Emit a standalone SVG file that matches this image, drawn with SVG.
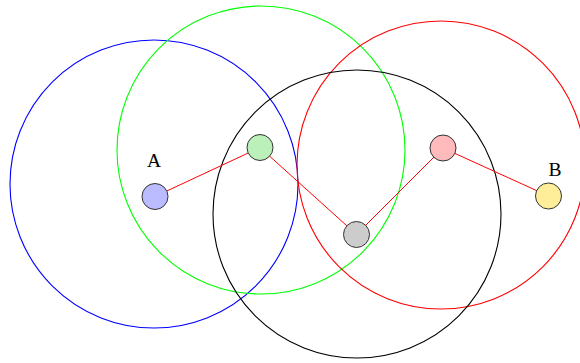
<svg xmlns="http://www.w3.org/2000/svg" width="580" height="363" viewBox="0 0 580 363">
<style>
.range{fill:none;stroke-width:1.1}
.node{stroke:#333;stroke-width:1}
.edge{stroke:#ff0000;stroke-width:1}
.lbl{font-family:"Liberation Serif",serif;font-size:19.5px;fill:#000;text-anchor:middle}
</style>
<rect width="580" height="363" fill="#fff"/>
<g id="ranges">
<circle class="range" cx="154" cy="184" r="144" stroke="#0000ff"/>
<circle class="range" cx="261" cy="150" r="144" stroke="#00ff00"/>
<circle class="range" cx="441" cy="165" r="144" stroke="#ff0000"/>
<circle class="range" cx="357" cy="214" r="144" stroke="#000000"/>
</g>
<g id="connectors">
<line class="edge" x1="155" y1="196.5" x2="260" y2="147.5"/>
<line class="edge" x1="260" y1="147.5" x2="356.5" y2="234.5"/>
<line class="edge" x1="356.5" y1="234.5" x2="443" y2="148"/>
<line class="edge" x1="443" y1="148" x2="548.5" y2="196"/>
</g>
<g id="A"><circle class="node" cx="155" cy="196.5" r="13" fill="#bbbbff"/><text class="lbl" x="154" y="167">A</text></g>
<g id="n1"><circle class="node" cx="260" cy="147.5" r="13" fill="#bbf0bb"/></g>
<g id="n2"><circle class="node" cx="356.5" cy="234.5" r="13" fill="#cccccc"/></g>
<g id="n3"><circle class="node" cx="443" cy="148" r="13" fill="#ffbbbb"/></g>
<g id="B"><circle class="node" cx="548.5" cy="196" r="13" fill="#ffee99"/><text class="lbl" x="555" y="176">B</text></g>
</svg>
